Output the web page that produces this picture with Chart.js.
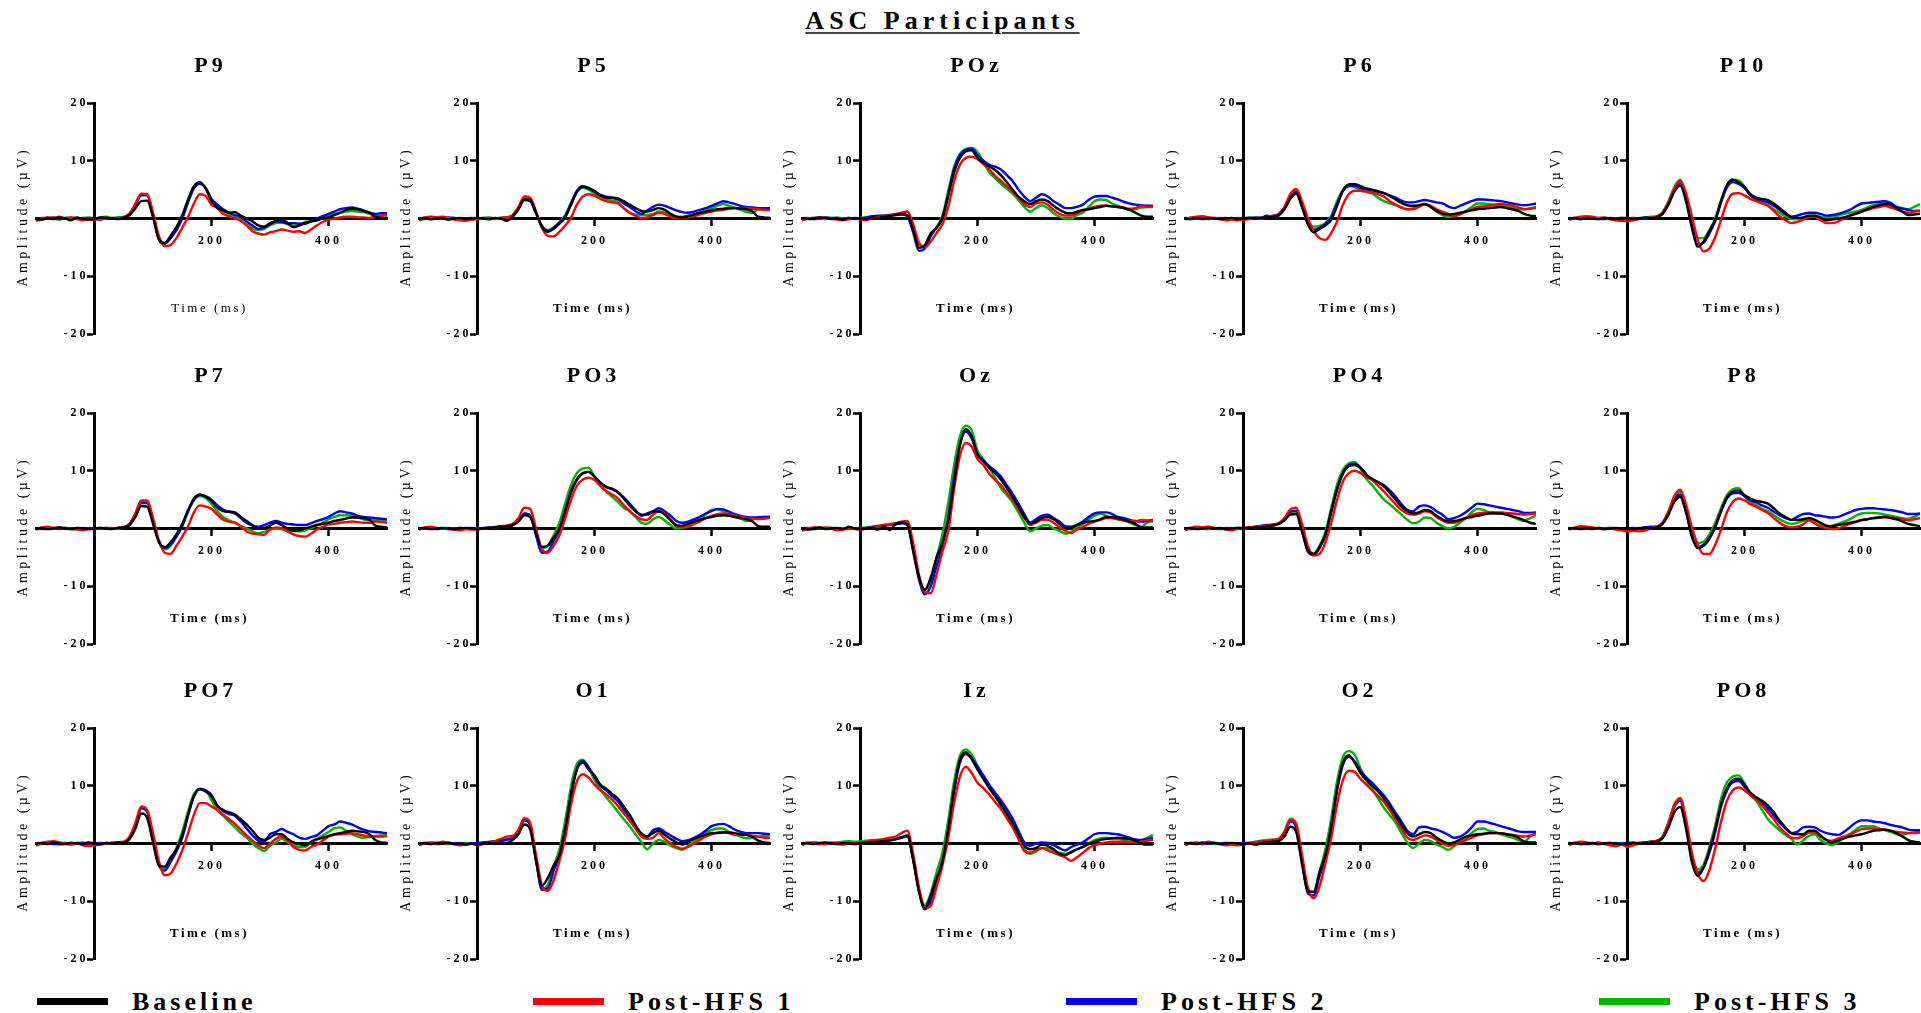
<!DOCTYPE html>
<html>
<head>
<meta charset="utf-8">
<script src="https://cdn.jsdelivr.net/npm/chart.js@4/dist/chart.umd.min.js"></script>
<style>
  html, body { margin: 0; padding: 0; background: #fff; }
  body { width: 1921px; height: 1013px; overflow: hidden; position: relative;
         font-family: "Liberation Serif", "Times New Roman", serif; color: #000; }
  canvas.panel { position: absolute; }
  #mainTitle { position: absolute; top: 6px; left: 0; width: 1885px; text-align: center;
               font-weight: bold; font-size: 26px; line-height: 30px; letter-spacing: 5px;
               text-decoration: underline; text-decoration-thickness: 2px; text-underline-offset: 3px;
               text-decoration-color: #444; }
  .lgSwatch { position: absolute; top: 998px; width: 71px; height: 7px; }
  .lgText { position: absolute; top: 987px; font-weight: bold; font-size: 26px; line-height: 30px;
            letter-spacing: 4px; white-space: nowrap; }
</style>
</head>
<body>
<div id="mainTitle">ASC Participants</div>
<script>
// ---- time base (ms) and tick values ----
const timesMs = [-100,-90,-80,-70,-60,-50,-40,-30,-20,-10,0,10,20,30,40,50,60,70,80,90,100,110,120,130,140,150,160,170,180,190,200,210,220,230,240,250,260,270,280,290,300,310,320,330,340,350,360,370,380,390,400,410,420,430,440,450,460,470,480,490,500];
const xTickValues = [200, 400];
const yTickValues = [-20, -10, 10, 20];
const channelNames = ['P9','P5','POz','P6','P10','P7','PO3','Oz','PO4','P8','PO7','O1','Iz','O2','PO8'];
const seriesNames = ['Baseline','Post-HFS 1','Post-HFS 2','Post-HFS 3'];

// ---- grand-average amplitudes (µV), one value per time point ----
const p9Base = [0.0,-0.2,0.1,-0.1,0.2,0.0,-0.3,0.1,0.0,-0.2, -0.1,0.2,0.1,0.0,-0.1,0.1,0.6,1.8,3.0,3.1, 0.2,-3.6,-4.3,-3.0,-1.5,0.5,3.2,5.6,6.3,5.2, 3.0,1.8,1.4,1.0,1.1,0.5,0.0,-0.5,-1.2,-1.4, -0.8,-0.4,-0.2,-0.8,-1.5,-1.2,-0.8,-0.5,-0.3,0.0, 0.2,0.6,1.0,1.5,1.7,1.6,1.3,1.0,0.3,0.1, 0.0];
const p9Hfs1 = [-0.3,0.0,0.2,0.1,0.3,0.0,0.2,-0.1,-0.3,-0.1, -0.2,-0.1,0.0,0.1,0.0,0.2,0.9,2.6,4.3,4.2, 1.0,-3.0,-4.8,-4.6,-3.4,-1.6,0.3,2.6,4.2,3.9, 2.4,1.8,0.8,0.4,0.0,-0.4,-1.2,-2.2,-2.6,-2.8, -2.4,-2.2,-1.9,-2.1,-2.3,-2.2,-2.5,-1.9,-1.2,-0.6, -0.2,0.0,0.2,0.3,0.3,0.2,0.2,0.1,0.3,0.5, 0.6];
const p9Hfs2 = [-0.2,0.1,0.0,0.2,-0.1,0.1,0.0,0.2,-0.1,0.0, 0.1,-0.2,0.1,0.0,0.1,0.1,0.7,2.3,4.0,4.0, 0.6,-3.6,-4.4,-3.4,-2.0,0.0,2.8,5.2,6.0,5.3, 3.4,2.4,1.6,1.0,0.6,0.3,-0.5,-1.2,-1.8,-1.6, -1.0,-0.5,-0.6,-0.8,-0.8,-0.9,-0.9,-0.5,0.0,0.4, 0.8,1.2,1.6,1.8,1.9,1.7,1.4,1.0,0.8,0.9, 0.9];
const p9Hfs3 = [-0.4,-0.2,0.1,0.0,-0.2,0.1,0.2,0.0,0.1,0.2, 0.0,0.2,0.3,0.1,0.2,0.3,0.8,2.4,4.2,4.1, 0.8,-3.3,-4.2,-3.3,-1.6,0.6,3.3,5.6,6.2,5.3, 3.2,2.2,1.3,0.8,0.4,-0.3,-1.0,-1.7,-2.0,-1.8, -1.2,-0.8,-0.7,-1.0,-1.2,-1.1,-0.6,-0.5,-0.3,0.1, 0.5,0.8,1.0,1.2,1.3,1.2,1.1,0.8,0.6,0.5, 0.5];

const p5Base = [0.0,0.1,-0.1,0.0,0.1,-0.2,0.0,0.1,-0.1,0.0, 0.1,0.0,-0.1,0.1,0.0,-0.4,0.3,1.6,3.3,3.2, 1.0,-1.4,-2.3,-1.8,-0.9,0.2,2.4,4.6,5.5,5.2, 4.8,4.0,3.6,3.6,3.5,3.0,2.4,1.8,1.3,1.2, 1.5,1.8,1.5,0.8,0.3,0.2,0.4,0.7,1.0,1.2, 1.4,1.6,1.7,1.8,1.8,1.7,1.6,1.2,0.3,0.2, 0.1];
const p5Hfs1 = [-0.2,0.2,0.3,0.2,0.3,0.1,-0.2,-0.3,-0.4,-0.2, -0.1,0.0,0.1,-0.1,0.1,0.2,0.6,2.0,3.8,3.6, 1.2,-1.6,-3.0,-3.1,-2.3,-1.2,0.2,2.4,3.8,4.2, 3.9,3.4,3.0,2.8,2.6,1.8,1.0,0.5,0.1,0.2, 0.6,1.0,0.8,0.3,0.1,0.1,0.2,0.4,0.7,1.0, 1.2,1.4,1.5,1.7,1.8,1.8,1.8,1.7,1.6,1.5, 1.4];
const p5Hfs2 = [0.1,0.0,-0.1,0.1,0.0,0.2,0.1,-0.1,0.0,0.1, 0.0,0.1,-0.1,0.0,0.1,0.2,0.5,1.7,3.2,3.0, 0.9,-1.3,-2.2,-1.6,-0.7,0.4,2.6,4.8,5.6,5.3, 4.6,4.1,3.8,3.6,3.3,2.6,2.0,1.3,0.8,1.4, 2.0,2.4,2.2,1.8,1.4,1.1,1.0,1.2,1.5,1.8, 2.2,2.6,3.0,2.8,2.5,2.2,2.0,1.9,1.8,1.8, 1.8];
const p5Hfs3 = [-0.3,-0.1,0.0,0.1,-0.1,0.0,0.1,0.0,-0.1,0.0, 0.0,0.1,0.2,0.0,0.1,0.1,0.4,1.8,3.5,3.4, 1.1,-1.2,-2.0,-1.6,-0.6,0.6,2.8,4.6,5.3,5.0, 4.3,3.8,3.4,3.1,2.8,1.8,1.0,0.7,0.6,0.6, 0.8,1.2,1.0,0.6,0.3,0.3,0.5,0.7,1.0,1.4, 1.8,2.2,2.5,2.2,1.9,1.5,1.1,1.0,1.6,1.6, 1.6];

const pozBase = [0.1,-0.1,0.0,0.2,0.1,-0.1,0.0,-0.2,0.1,0.0, 0.0,-0.1,0.2,0.1,0.3,0.4,0.6,0.8,0.6,-2.0, -5.1,-4.6,-2.6,-1.6,0.0,4.0,8.0,10.5,11.6,11.8, 10.5,9.6,9.0,8.4,7.5,6.3,5.0,3.8,3.0,2.5, 3.0,3.3,3.0,2.2,1.5,1.0,0.9,1.2,1.5,1.6, 1.8,2.0,2.2,2.1,2.0,1.8,1.5,1.0,0.5,0.3, 0.3];
const pozHfs1 = [-0.3,0.0,0.1,0.2,0.1,0.0,-0.2,-0.3,-0.1,0.0, -0.2,-0.3,0.1,0.2,0.4,0.5,0.8,1.0,1.2,-1.0, -4.2,-5.0,-4.0,-2.5,-1.0,2.0,6.4,9.3,10.5,10.7, 10.3,9.4,8.5,7.4,6.5,5.6,4.7,3.6,2.5,2.0, 2.6,2.8,2.4,1.5,0.8,0.5,0.5,0.9,1.3,1.7, 2.0,2.2,2.2,2.1,2.0,1.9,1.7,1.8,2.2,2.0, 2.1];
const pozHfs2 = [0.0,0.1,-0.1,0.0,0.2,0.1,0.0,-0.1,0.0,0.1, 0.0,0.2,0.4,0.5,0.5,0.6,0.6,0.7,0.4,-2.4, -5.6,-5.2,-3.0,-1.6,0.1,4.2,8.6,11.0,11.9,12.1, 11.0,10.0,9.3,9.0,8.5,7.5,6.5,5.0,3.8,3.0, 3.6,4.2,3.8,3.0,2.4,1.8,1.8,2.0,2.4,3.2, 3.8,3.9,3.9,3.6,3.3,2.9,2.6,2.4,2.3,2.2, 2.2];
const pozHfs3 = [-0.2,0.0,0.1,0.0,-0.1,0.1,0.2,0.0,0.1,-0.1, 0.1,0.2,0.3,0.4,0.5,0.6,0.7,0.8,0.5,-1.8, -4.6,-4.8,-3.0,-1.5,0.5,4.8,9.0,11.2,12.0,12.2, 11.5,9.8,8.0,7.0,6.0,5.2,4.3,3.2,2.0,1.2, 1.8,2.3,1.8,0.9,0.3,0.0,0.0,0.6,1.0,2.0, 3.0,3.3,3.2,2.6,2.2,1.8,1.5,1.6,1.9,2.0, 2.0];

const p6Base = [0.0,-0.1,0.1,0.0,0.1,0.0,-0.1,0.0,0.1,-0.1, 0.0,0.1,0.0,0.1,0.2,0.3,0.6,1.6,3.4,4.3, 2.0,-1.0,-2.4,-1.8,-1.2,-0.2,2.2,4.8,5.9,6.0, 5.6,5.2,5.0,4.7,4.4,3.9,3.3,2.7,2.3,2.2, 2.3,2.5,2.0,1.3,0.8,0.7,0.8,1.0,1.2,1.4, 1.6,1.7,1.8,1.9,2.0,1.8,1.6,1.3,0.8,0.5, 0.4];
const p6Hfs1 = [-0.2,0.2,0.3,0.4,0.2,0.1,-0.1,-0.3,-0.2,-0.3, -0.2,-0.1,0.1,0.0,0.2,0.5,0.8,2.0,4.2,5.1, 3.0,0.0,-2.2,-3.4,-3.7,-2.5,-0.5,2.4,4.2,4.8, 4.8,4.6,4.5,4.2,3.8,3.0,2.4,1.9,1.6,1.6, 2.0,2.5,2.2,1.6,1.2,0.8,0.4,0.7,1.2,1.6, 2.0,2.1,2.2,2.4,2.5,2.4,2.2,1.9,1.6,1.7, 1.8];
const p6Hfs2 = [0.1,0.0,0.1,-0.1,0.0,0.1,0.0,0.1,-0.1,0.0, 0.1,0.0,0.2,0.1,0.5,0.3,0.5,1.7,3.7,4.6, 2.2,-0.8,-2.0,-1.6,-0.9,0.2,2.6,4.8,5.6,5.7, 5.3,5.0,4.8,4.6,4.4,4.0,3.6,3.1,2.8,2.8, 3.0,3.2,3.0,2.8,2.6,2.1,1.8,2.2,2.6,3.0, 3.3,3.3,3.2,3.1,3.0,2.8,2.6,2.4,2.3,2.4, 2.6];
const p6Hfs3 = [0.0,0.1,0.0,0.1,-0.1,0.0,0.1,0.0,0.0,0.1, 0.0,0.2,0.1,0.2,0.3,0.3,0.6,1.9,4.0,4.9, 2.6,-0.3,-1.4,-1.3,-0.8,0.5,3.0,5.0,5.7,5.4, 5.0,4.6,4.3,3.6,3.0,2.6,2.3,1.9,1.6,1.8, 2.2,2.4,2.0,1.2,0.6,0.3,0.4,0.8,1.3,2.0, 2.6,2.6,2.5,2.4,2.3,2.1,1.8,1.6,1.6,1.8, 2.0];

const p10Base = [0.0,0.1,-0.1,0.1,0.0,-0.1,0.1,0.0,-0.1,0.0, 0.1,-0.1,0.0,0.1,0.0,0.2,0.8,2.4,4.6,5.7, 3.0,-1.6,-4.9,-4.0,-2.2,-0.2,3.0,5.8,6.7,6.2, 5.5,4.2,3.6,3.4,3.2,2.6,1.8,1.0,0.2,0.1, 0.2,0.5,0.5,0.1,-0.3,-0.2,0.0,0.2,0.5,0.8, 1.2,1.6,2.0,2.3,2.5,2.3,1.8,1.2,0.6,0.7, 0.8];
const p10Hfs1 = [-0.2,0.1,0.3,0.4,0.3,0.1,0.2,-0.1,-0.3,-0.4, -0.4,-0.3,-0.1,0.0,0.1,0.3,1.0,2.8,5.2,6.5, 4.4,0.4,-3.6,-5.7,-5.2,-3.2,-0.2,2.8,4.3,4.4, 4.0,3.4,3.0,2.6,2.2,1.3,0.4,-0.3,-0.8,-0.6, -0.2,0.3,0.3,-0.3,-0.8,-0.8,-0.5,0.0,0.5,0.9, 1.2,1.5,1.8,2.0,2.2,1.9,1.6,1.2,1.0,1.2, 1.4];
const p10Hfs2 = [-0.1,0.0,0.1,0.0,0.2,0.0,-0.1,0.1,0.0,0.1, 0.0,0.1,0.0,0.2,0.1,0.3,0.9,2.6,5.0,6.1, 3.4,-1.0,-4.5,-4.2,-2.6,-0.4,2.8,5.4,6.3,6.0, 5.3,4.0,3.4,3.1,2.8,2.2,1.5,0.8,0.3,0.5, 0.8,1.0,1.0,0.8,0.5,0.6,0.8,1.1,1.5,2.1, 2.6,2.7,2.8,2.9,3.0,2.7,2.0,1.7,1.5,1.3, 1.3];
const p10Hfs3 = [0.1,0.0,-0.1,0.1,0.0,0.1,0.0,-0.1,0.0,0.1, 0.1,0.0,0.1,0.2,0.3,0.4,1.1,3.0,5.4,6.7, 4.0,-0.6,-3.4,-3.4,-2.0,0.0,3.2,5.8,6.7,6.6, 5.5,4.0,3.3,2.8,2.3,1.6,1.0,0.4,-0.1,-0.1, 0.0,0.4,0.5,0.3,0.2,0.3,0.5,0.8,1.0,1.2, 1.5,1.9,2.3,2.5,2.6,2.4,2.0,1.8,1.6,2.0, 2.5];

const p7Base = [0.0,0.1,-0.1,0.0,0.2,0.0,-0.1,0.1,0.0,-0.1, 0.0,0.1,0.0,-0.1,0.1,0.2,0.6,2.0,3.9,3.8, 0.8,-2.3,-3.2,-2.4,-1.0,0.8,3.2,5.2,5.9,5.5, 4.8,3.6,3.0,2.9,2.8,2.0,1.3,0.6,0.0,0.1, 0.5,1.0,0.6,0.0,-0.4,-0.3,0.0,0.3,0.6,0.8, 1.0,1.3,1.5,1.7,1.9,1.9,1.8,1.5,0.5,0.3, 0.2];
const p7Hfs1 = [-0.1,0.2,0.3,0.1,0.2,0.0,-0.1,-0.2,-0.3,-0.1, -0.1,0.0,0.1,0.0,0.1,0.2,0.8,2.6,4.8,4.8, 1.8,-2.0,-4.2,-4.4,-3.0,-1.4,0.4,2.8,4.0,3.8, 3.4,2.4,1.5,1.2,1.0,0.4,-0.5,-0.9,-1.0,-1.1, -0.2,0.2,0.0,-0.5,-1.0,-1.3,-1.4,-0.9,-0.2,0.3, 0.7,0.8,1.0,1.1,1.2,1.1,1.0,1.0,1.2,1.1, 1.0];
const p7Hfs2 = [0.1,-0.1,0.0,0.1,0.0,0.1,0.0,0.0,0.1,0.0, 0.1,0.0,0.1,0.0,0.1,0.2,0.7,2.3,4.4,4.4, 1.2,-2.2,-3.4,-2.8,-1.4,0.4,3.0,5.0,5.8,5.6, 5.0,4.0,3.3,2.9,2.6,1.8,1.0,0.5,0.3,0.6, 1.0,1.3,1.0,0.8,0.7,0.6,0.6,0.9,1.3,1.6, 2.0,2.6,3.0,2.8,2.6,2.2,2.0,1.9,1.8,1.7, 1.6];
const p7Hfs3 = [-0.2,0.0,0.1,0.0,-0.1,0.1,0.0,0.1,-0.1,0.0, 0.0,0.1,0.0,0.1,0.0,0.2,0.8,2.6,4.8,4.8, 1.5,-2.3,-3.6,-3.0,-1.4,0.6,3.0,4.9,5.6,5.3, 4.3,3.0,2.0,1.4,1.0,0.4,0.0,-0.5,-0.8,-0.6, -0.2,0.0,-0.1,-0.3,-0.5,-0.5,-0.3,0.1,0.5,1.0, 1.6,2.0,2.3,2.3,2.2,1.9,1.6,1.4,1.5,1.4, 1.4];

const po3Base = [0.0,0.1,-0.1,0.0,0.1,0.0,-0.1,0.0,0.1,0.0, -0.1,0.0,0.1,0.2,0.3,0.4,0.6,1.2,2.3,2.0, -0.8,-3.2,-3.0,-1.6,0.0,3.2,6.5,8.6,9.6,9.8, 9.0,7.9,7.2,6.9,6.3,5.2,4.0,3.0,2.4,2.4, 2.9,3.0,2.4,1.4,0.6,0.5,0.8,1.2,1.5,1.8, 2.0,2.2,2.3,2.2,2.0,1.8,1.6,1.2,0.4,0.3, 0.3];
const po3Hfs1 = [-0.2,0.2,0.3,0.1,0.0,-0.1,-0.2,-0.3,-0.1,-0.2, -0.1,0.0,0.1,0.2,0.4,0.5,0.8,1.8,3.6,3.4, 0.0,-3.6,-4.2,-3.0,-1.2,1.8,5.0,7.4,8.5,8.8, 8.4,7.4,6.5,5.9,5.2,4.0,3.0,2.2,1.6,1.5, 2.4,3.0,2.6,1.6,0.4,0.2,0.3,0.8,1.2,1.8, 2.2,2.5,2.6,2.5,2.2,2.0,1.8,1.7,1.6,1.7, 1.8];
const po3Hfs2 = [0.1,0.0,0.1,-0.1,0.0,0.1,0.0,0.1,0.0,0.1, 0.0,0.1,0.2,0.2,0.3,0.4,0.6,1.3,2.6,2.2, -1.2,-4.2,-4.0,-2.2,-0.3,2.8,6.2,8.4,9.5,9.8, 9.0,8.0,7.2,6.8,6.3,5.4,4.3,3.2,2.2,2.6, 3.0,3.5,3.0,2.2,1.3,1.0,1.2,1.6,2.0,2.6, 3.0,3.4,3.3,2.9,2.5,2.2,2.0,1.9,1.9,2.0, 2.0];
const po3Hfs3 = [-0.1,0.0,0.1,0.0,0.1,-0.1,0.0,0.1,0.0,0.0, 0.1,0.0,0.1,0.3,0.3,0.4,0.6,1.3,2.6,2.3, -0.9,-3.4,-3.0,-1.2,1.0,4.4,7.6,9.6,10.4,10.5, 9.0,7.4,6.4,5.5,4.6,3.6,3.0,2.0,1.0,0.8, 1.6,2.0,1.4,0.6,0.0,0.1,0.4,0.9,1.5,2.4, 3.2,3.3,3.0,2.4,2.0,1.7,1.3,1.5,2.0,2.0, 2.0];

const ozBase = [0.1,-0.2,0.0,0.2,-0.1,0.0,0.1,-0.1,0.3,0.0, -0.1,0.0,0.1,-0.2,0.4,-0.3,0.8,1.0,0.8,-4.0, -8.5,-10.6,-8.5,-5.0,-2.5,1.5,8.0,14.5,17.2,16.0, 12.8,11.6,10.5,9.6,8.5,7.0,5.5,3.8,2.0,0.8, 1.2,1.8,2.0,1.6,0.8,0.1,0.2,0.6,1.0,1.2, 1.3,1.6,2.0,2.0,1.8,1.5,1.2,0.8,0.2,0.2, 0.2];
const ozHfs1 = [-0.4,0.0,0.2,0.1,0.2,0.0,-0.3,-0.2,0.0,-0.1, -0.2,0.0,0.1,0.3,0.6,0.7,0.9,1.2,1.3,-2.5, -8.0,-11.0,-11.2,-8.0,-4.0,-0.5,6.8,12.6,14.8,14.2, 12.0,11.0,9.5,8.4,7.5,6.2,5.0,3.4,1.8,0.6, 1.0,1.5,1.5,1.0,0.2,-0.4,-0.8,-0.2,0.3,0.8, 1.2,1.5,1.8,1.8,1.6,1.4,1.3,1.2,1.5,1.4, 1.3];
const ozHfs2 = [0.0,0.1,-0.1,0.0,0.1,0.1,0.0,-0.1,0.1,0.0, 0.0,0.1,0.2,0.4,0.5,0.6,0.7,0.9,0.6,-3.6, -8.8,-11.4,-10.0,-6.5,-3.0,2.0,9.0,14.5,16.8,15.6, 12.8,11.8,10.8,10.0,9.0,7.5,6.0,4.3,2.5,1.0, 1.6,2.2,2.4,1.8,1.2,0.4,0.3,0.6,1.2,2.0, 2.6,2.8,2.8,2.5,2.0,1.8,1.5,1.3,1.2,1.3, 1.5];
const ozHfs3 = [-0.2,0.0,0.1,0.2,0.0,0.1,0.0,0.1,-0.1,0.0, 0.1,0.2,0.3,0.5,0.6,0.8,0.9,1.0,0.7,-3.4, -8.6,-10.6,-9.0,-5.0,-1.0,4.5,11.0,16.0,17.8,17.0, 13.5,12.0,10.5,8.8,7.0,5.8,4.5,2.8,1.0,-0.5, 0.0,0.5,0.6,0.0,-0.4,-0.9,-0.6,0.2,0.8,1.5, 2.2,2.6,2.2,1.8,1.6,1.4,1.0,0.6,0.3,1.0, 1.3];

const po4Base = [0.0,0.1,-0.1,0.0,0.1,0.0,0.1,-0.1,0.0,0.1, 0.0,0.1,0.2,0.2,0.4,0.5,0.8,1.4,2.4,2.5, -0.6,-3.8,-4.4,-3.2,-1.0,3.0,6.8,9.5,10.8,11.0, 10.5,9.3,8.6,8.0,7.3,6.2,5.0,3.8,3.0,2.6, 2.8,3.2,3.0,2.2,1.6,1.2,1.3,1.5,1.8,2.0, 2.2,2.4,2.6,2.6,2.6,2.4,2.1,1.8,1.4,1.0, 0.8];
const po4Hfs1 = [-0.3,0.1,0.3,0.2,0.3,0.1,0.0,-0.2,-0.3,0.0, 0.1,0.2,0.3,0.4,0.5,0.6,0.9,1.8,3.3,3.6, 0.8,-3.0,-4.7,-4.4,-2.4,1.0,5.0,8.2,9.6,10.0, 9.6,8.9,8.4,7.4,6.4,5.3,4.2,3.2,2.6,2.4, 2.6,3.0,2.8,2.0,1.4,1.0,1.0,1.3,1.8,2.3, 2.6,2.7,2.8,2.8,2.8,2.7,2.6,2.5,2.4,2.5, 2.6];
const po4Hfs2 = [0.0,-0.1,0.1,0.0,0.1,0.0,-0.1,0.1,0.0,0.1, 0.1,0.2,0.3,0.5,0.6,0.7,0.9,1.6,2.9,3.1, -0.2,-4.0,-4.6,-3.4,-1.2,2.8,6.8,9.6,11.0,11.2, 10.6,9.4,8.5,8.0,7.5,6.6,5.5,4.2,3.2,3.0, 3.8,4.0,3.7,3.0,2.4,1.6,1.8,2.2,2.8,3.6, 4.3,4.2,4.0,3.8,3.6,3.4,3.2,3.0,2.7,2.7, 2.8];
const po4Hfs3 = [-0.1,0.0,0.1,0.0,-0.1,0.1,0.0,0.0,0.1,-0.1, 0.0,0.1,0.2,0.3,0.4,0.5,0.8,1.5,2.7,2.8, -0.4,-3.7,-4.3,-3.0,-0.6,3.6,7.6,10.2,11.3,11.5, 10.3,8.6,7.5,6.2,5.0,4.2,3.3,2.4,1.5,0.9, 1.2,1.9,1.8,1.0,0.4,0.0,0.3,1.0,1.8,2.8, 3.4,3.2,2.8,2.7,2.6,2.4,2.0,1.6,1.3,1.8, 2.2];

const p8Base = [0.0,0.1,-0.1,0.1,0.0,0.1,-0.1,0.0,0.1,0.0, 0.1,-0.1,0.0,0.1,0.0,0.2,0.8,2.4,4.6,5.5, 2.8,-1.4,-3.4,-3.0,-1.8,0.2,3.0,5.4,6.4,6.6, 5.8,5.2,4.8,4.6,4.3,3.5,2.6,2.0,1.5,1.5, 1.6,1.8,1.5,1.0,0.5,0.4,0.6,0.8,1.0,1.2, 1.5,1.6,1.8,1.9,2.0,1.8,1.6,1.2,0.8,0.6, 0.4];
const p8Hfs1 = [-0.2,0.1,0.4,0.3,0.2,0.0,-0.1,0.1,-0.2,-0.3, -0.5,-0.4,-0.5,-0.3,0.0,0.3,1.0,3.0,5.6,6.7, 4.2,0.2,-2.8,-4.4,-4.4,-2.8,-0.2,2.8,4.6,5.2, 4.9,4.2,3.8,3.2,2.7,1.8,1.0,0.4,0.2,0.3, 0.7,1.4,0.9,0.3,0.1,-0.1,0.0,0.4,0.8,1.1, 1.4,1.6,1.8,1.9,2.0,1.9,1.8,1.6,1.4,1.6, 1.8];
const p8Hfs2 = [0.1,0.0,0.1,0.0,-0.1,0.1,0.0,0.1,0.0,-0.1, 0.0,0.1,0.0,0.2,0.3,0.3,0.9,2.6,5.0,5.9, 3.0,-1.2,-3.2,-2.8,-1.6,0.4,3.0,5.2,6.1,6.2, 5.6,4.9,4.5,4.0,3.6,2.9,2.3,1.8,1.5,2.0, 2.5,2.6,2.3,2.2,2.0,1.9,2.0,2.4,2.8,3.2, 3.4,3.5,3.5,3.4,3.3,3.2,3.0,2.8,2.5,2.5, 2.6];
const p8Hfs3 = [0.0,0.1,0.0,-0.1,0.1,0.0,0.1,0.0,-0.1,0.0, 0.1,0.0,0.1,0.2,0.2,0.3,1.0,2.8,5.3,6.4, 3.6,-0.6,-2.5,-2.3,-1.0,1.0,3.6,5.8,6.8,7.0, 5.6,4.6,4.0,3.4,3.0,2.3,1.6,1.1,0.8,1.0, 1.3,1.5,1.0,0.6,0.4,0.5,0.8,1.2,1.6,2.2, 2.6,2.7,2.7,2.6,2.4,2.2,2.0,1.8,1.7,2.0, 2.6];

const po7Base = [0.0,0.1,-0.1,0.2,0.0,-0.1,0.1,0.0,-0.1,0.2, 0.0,-0.1,0.1,0.0,0.2,0.1,0.8,2.6,5.2,4.4, 0.2,-3.8,-4.0,-2.4,-1.0,1.4,5.0,8.2,9.4,9.0, 8.2,6.5,5.8,5.4,5.0,4.2,3.3,2.2,1.0,0.6, 1.0,1.6,1.6,0.8,0.2,-0.1,-0.3,0.3,0.7,1.0, 1.3,1.6,1.8,2.0,2.2,2.1,2.0,1.6,0.6,0.2, 0.1];
const po7Hfs1 = [-0.4,0.1,0.3,0.4,0.2,0.0,-0.2,0.1,-0.3,-0.4, -0.3,-0.2,0.0,0.1,0.2,0.3,1.2,3.6,6.4,5.8, 1.8,-3.0,-5.5,-5.2,-3.5,-1.2,1.8,5.0,7.0,7.0, 6.4,5.8,5.0,4.2,3.4,2.4,1.4,0.5,-0.3,-0.8, 0.0,0.8,1.2,0.4,-0.6,-1.1,-1.2,-0.6,-0.2,0.5, 1.2,1.5,1.6,1.7,1.8,1.6,1.4,1.2,1.2,1.2, 1.3];
const po7Hfs2 = [0.1,0.0,0.1,-0.1,0.0,0.1,0.0,0.1,0.0,-0.1, 0.1,0.0,0.1,0.0,0.2,0.2,1.0,3.3,6.2,5.6, 1.0,-3.8,-4.7,-3.2,-1.4,1.0,4.8,8.2,9.5,9.2, 8.4,6.6,5.6,5.1,4.8,3.8,2.6,1.4,0.5,0.3, 1.6,2.0,2.5,2.0,1.6,1.0,0.8,1.1,1.4,2.2, 3.0,3.3,3.8,3.6,3.3,2.8,2.4,2.1,2.0,1.9, 1.8];
const po7Hfs3 = [-0.2,-0.1,0.0,0.1,-0.2,0.0,0.1,0.0,0.2,0.0, 0.0,0.1,0.0,0.2,0.1,0.2,1.0,3.2,6.1,5.5, 0.8,-3.7,-4.4,-2.8,-0.8,2.0,5.6,8.6,9.4,9.2, 7.5,5.8,4.8,3.8,2.8,1.8,1.0,0.0,-0.8,-1.3, -0.4,0.2,0.8,0.2,-0.2,-0.6,-0.6,0.2,0.8,1.4, 2.0,2.6,2.8,2.2,1.6,1.2,1.0,1.1,1.3,1.4, 1.5];

const o1Base = [0.0,0.1,-0.1,0.1,0.0,0.1,-0.1,0.0,-0.2,0.0, -0.2,0.0,0.1,0.0,0.2,0.1,0.6,1.6,3.3,2.4, -3.0,-7.3,-6.0,-3.8,-2.0,2.5,8.5,12.8,14.0,12.8, 11.8,10.2,9.5,8.6,7.8,6.4,5.0,3.2,1.8,1.2, 1.8,2.2,1.5,0.8,0.2,-0.2,0.3,0.8,1.2,1.5, 1.8,1.8,1.9,1.9,1.8,1.6,1.5,1.1,0.5,0.2, 0.1];
const o1Hfs1 = [-0.3,0.1,0.2,0.0,0.3,0.1,-0.1,-0.3,-0.2,0.0, -0.3,-0.1,0.2,0.4,0.8,1.2,1.3,2.4,4.4,3.6, -2.0,-7.2,-8.2,-6.4,-3.0,1.0,6.8,10.8,12.0,11.4, 10.2,9.2,8.5,7.6,6.5,5.2,4.0,2.6,1.2,0.8, 1.0,1.8,0.8,0.0,-0.6,-0.9,-0.6,0.0,0.6,1.2, 1.6,1.9,2.0,1.8,1.5,1.5,1.5,1.3,1.2,1.0, 0.9];
const o1Hfs2 = [0.1,0.0,0.1,-0.1,0.0,0.2,0.0,0.1,-0.1,0.0, 0.1,0.2,0.3,0.4,0.6,0.7,0.9,2.0,4.0,3.2, -2.8,-8.0,-7.8,-4.8,-2.0,2.6,8.6,13.0,14.3,13.2, 11.5,10.0,9.2,8.2,7.3,5.8,4.3,2.8,1.6,1.2, 2.3,2.6,2.0,1.4,0.8,0.4,0.6,1.0,1.5,2.2, 3.0,3.3,3.4,3.0,2.4,2.0,1.8,1.8,1.8,1.7, 1.6];
const o1Hfs3 = [-0.2,0.0,0.1,0.2,0.0,-0.1,0.1,0.0,0.1,0.0, 0.0,0.1,0.2,0.4,0.5,0.7,0.9,2.0,4.0,3.2, -2.6,-7.8,-7.2,-4.0,-1.0,4.0,10.0,13.8,14.5,13.0, 11.0,9.4,8.0,6.8,5.5,4.2,3.0,1.6,0.3,-1.0, 0.0,0.6,0.3,-0.4,-0.8,-1.1,-0.4,0.4,1.0,1.8, 2.3,2.6,2.6,2.0,1.6,1.2,0.9,1.0,1.2,1.3, 1.4];

const izBase = [0.0,0.1,-0.1,0.1,0.2,0.0,-0.1,0.1,0.0,-0.1, 0.0,0.1,0.2,0.3,0.4,0.5,0.7,1.0,1.4,-2.8, -8.4,-11.2,-9.0,-6.0,-3.2,2.5,9.5,14.5,15.8,14.6, 12.8,11.2,9.6,8.2,6.8,5.2,3.5,1.6,-0.4,-1.0, -0.8,-0.2,-0.4,-1.0,-1.8,-2.0,-1.5,-1.0,-0.6,-0.1, 0.3,0.6,0.8,0.9,1.0,0.9,0.8,0.5,0.0,-0.2, -0.2];
const izHfs1 = [-0.3,0.1,0.2,0.0,-0.1,0.2,0.0,-0.2,0.1,0.0, 0.1,0.3,0.5,0.6,0.8,1.0,1.2,1.8,2.2,-1.8, -7.6,-11.2,-10.8,-7.5,-3.8,1.0,7.0,11.6,13.3,12.2, 10.5,9.6,8.5,7.2,6.0,4.4,2.8,0.8,-1.3,-1.6, -1.2,-0.8,-1.2,-1.6,-2.0,-2.4,-3.0,-2.4,-1.6,-0.8, -0.3,0.0,0.2,0.3,0.3,0.3,0.2,0.2,0.3,0.5, 0.6];
const izHfs2 = [0.0,0.1,0.0,-0.1,0.1,0.0,0.1,0.0,0.1,0.0, 0.1,0.2,0.3,0.4,0.5,0.6,0.8,1.1,1.3,-2.6, -8.2,-11.4,-10.0,-6.4,-3.0,2.2,9.0,14.0,15.5,14.8, 13.3,11.8,10.2,8.8,7.5,6.0,4.3,2.2,0.2,-0.4, 0.0,0.2,0.1,-0.3,-0.8,-1.2,-0.6,-0.2,0.2,0.9, 1.6,1.8,1.8,1.7,1.6,1.3,1.0,0.7,0.6,0.8, 1.0];
const izHfs3 = [-0.1,0.0,0.2,0.1,0.0,0.1,0.2,0.3,0.4,0.3, 0.4,0.5,0.6,0.6,0.7,0.6,0.8,1.0,1.2,-2.8, -8.2,-10.7,-8.6,-5.0,-1.6,4.0,10.8,15.2,16.3,15.4, 13.5,11.6,9.8,8.2,6.5,5.0,3.3,1.2,-1.0,-1.8, -1.4,-0.8,-0.8,-1.2,-1.6,-1.8,-1.6,-1.0,-0.6,0.0, 0.6,0.9,1.0,0.9,0.8,0.6,0.4,0.4,0.6,1.0, 1.5];

const o2Base = [0.0,0.1,-0.1,0.2,0.0,0.1,-0.1,0.0,0.1,0.0, -0.1,0.0,-0.2,0.0,0.2,0.3,0.4,1.2,2.9,2.0, -3.6,-8.2,-8.4,-5.0,-2.0,3.0,9.5,14.0,15.3,14.0, 12.2,11.0,10.0,9.0,7.8,6.4,4.8,3.2,1.8,1.2, 1.6,2.0,1.8,1.0,0.4,0.0,0.2,0.7,1.2,1.4, 1.6,1.7,1.8,1.8,1.8,1.6,1.4,1.0,0.3,0.2, 0.2];
const o2Hfs1 = [-0.3,0.1,0.2,0.0,0.3,0.1,-0.1,-0.3,-0.2,-0.3, -0.2,0.0,0.2,0.3,0.4,0.6,0.8,2.0,4.1,3.4, -2.0,-7.6,-9.5,-7.4,-3.4,1.0,6.8,11.0,12.6,12.4, 11.2,10.2,9.2,8.2,7.2,5.8,4.2,2.6,1.0,0.6, 1.0,1.4,1.2,0.6,0.0,-0.4,-0.2,0.2,0.6,1.0, 1.4,1.6,1.8,1.8,1.8,1.6,1.5,1.3,1.2,1.4, 1.6];
const o2Hfs2 = [0.1,0.0,0.1,-0.1,0.0,0.1,0.0,0.1,0.0,0.0, 0.1,0.1,0.2,0.3,0.4,0.5,0.6,1.8,3.8,2.8, -3.0,-8.6,-9.0,-5.6,-2.4,2.8,9.2,13.6,15.0,14.2, 12.6,11.4,10.5,9.4,8.3,6.9,5.3,3.8,2.2,1.6, 2.8,2.9,2.6,2.4,2.0,1.5,1.0,1.2,1.8,2.8, 3.8,3.8,3.6,3.3,3.0,2.7,2.4,2.1,2.0,2.0, 2.0];
const o2Hfs3 = [-0.2,0.0,0.1,0.0,0.2,-0.1,0.0,0.1,0.0,0.1, 0.0,0.1,0.3,0.5,0.6,0.7,0.8,2.1,4.3,3.4, -2.6,-8.2,-8.4,-4.8,-1.0,4.4,10.8,15.0,16.0,15.4, 13.0,11.0,9.4,7.8,6.2,4.9,3.6,1.8,0.2,-0.8, 0.0,0.6,0.4,-0.2,-0.6,-1.1,-0.5,0.3,0.8,1.8, 2.5,2.6,2.2,2.0,1.6,1.3,1.0,0.6,0.3,1.2, 1.8];

const po8Base = [0.0,0.1,-0.1,0.0,0.1,-0.1,0.0,0.1,0.0,-0.1, 0.0,0.1,0.0,0.1,0.2,0.3,0.9,2.8,5.4,6.3, 2.6,-3.2,-5.6,-4.2,-1.2,2.5,6.8,9.6,11.0,11.2, 10.2,8.8,8.0,7.4,6.6,5.4,4.0,2.8,1.8,1.6, 1.6,2.2,2.2,1.4,0.6,0.2,0.5,0.9,1.2,1.4, 1.6,1.9,2.2,2.3,2.4,2.2,1.8,1.2,0.6,0.3, 0.2];
const po8Hfs1 = [-0.3,0.1,0.3,0.2,0.0,0.2,-0.1,-0.3,-0.5,-0.2, -0.6,-0.3,0.0,0.1,0.3,0.5,1.2,3.6,6.6,7.8, 4.2,-1.6,-5.2,-6.5,-4.6,-0.8,3.8,7.4,9.2,9.7, 9.2,8.4,7.6,6.6,5.4,4.2,2.8,1.8,1.0,0.9, 1.3,1.9,1.9,1.2,0.6,0.5,0.9,1.2,1.6,2.0, 2.5,2.6,2.6,2.5,2.4,2.2,2.0,1.9,1.8,1.8, 1.9];
const po8Hfs2 = [0.1,0.0,0.1,-0.1,0.0,0.1,0.0,0.1,-0.1,0.0, 0.1,0.0,0.1,0.2,0.3,0.4,1.1,3.3,6.3,7.4, 3.4,-2.6,-5.0,-4.2,-1.6,2.0,6.4,9.2,10.6,10.8, 9.8,8.6,7.8,7.0,6.0,4.8,3.6,2.6,1.8,2.0, 2.8,2.9,2.8,2.2,1.8,1.6,1.5,2.0,2.8,3.6, 4.0,4.0,3.8,3.7,3.5,3.2,3.0,2.8,2.4,2.3, 2.3];
const po8Hfs3 = [-0.1,0.0,0.1,0.0,-0.1,0.1,0.0,0.0,0.1,0.0, 0.1,0.2,0.1,0.2,0.3,0.4,1.2,3.6,6.8,7.9, 4.0,-2.0,-4.5,-3.6,-0.6,3.2,7.8,10.6,11.6,11.8, 10.4,8.4,7.4,5.8,4.2,3.2,2.3,1.5,0.8,-0.2, 0.5,1.3,1.6,0.6,0.0,-0.3,0.3,1.0,1.6,2.4, 3.0,3.0,3.0,2.6,2.3,2.0,1.6,1.5,1.8,1.9, 2.0];

// channel -> [Baseline, Post-HFS 1, Post-HFS 2, Post-HFS 3]
const channelSeries = {
  P9: [p9Base, p9Hfs1, p9Hfs2, p9Hfs3],
  P5: [p5Base, p5Hfs1, p5Hfs2, p5Hfs3],
  POz: [pozBase, pozHfs1, pozHfs2, pozHfs3],
  P6: [p6Base, p6Hfs1, p6Hfs2, p6Hfs3],
  P10: [p10Base, p10Hfs1, p10Hfs2, p10Hfs3],
  P7: [p7Base, p7Hfs1, p7Hfs2, p7Hfs3],
  PO3: [po3Base, po3Hfs1, po3Hfs2, po3Hfs3],
  Oz: [ozBase, ozHfs1, ozHfs2, ozHfs3],
  PO4: [po4Base, po4Hfs1, po4Hfs2, po4Hfs3],
  P8: [p8Base, p8Hfs1, p8Hfs2, p8Hfs3],
  PO7: [po7Base, po7Hfs1, po7Hfs2, po7Hfs3],
  O1: [o1Base, o1Hfs1, o1Hfs2, o1Hfs3],
  Iz: [izBase, izHfs1, izHfs2, izHfs3],
  O2: [o2Base, o2Hfs1, o2Hfs2, o2Hfs3],
  PO8: [po8Base, po8Hfs1, po8Hfs2, po8Hfs3]
};

// ---- styling & layout ----
const FONT = '"Liberation Serif", "Times New Roman", serif';
const seriesColors = ['#000000', '#ff0000', '#0000f0', '#00b400'];
const colAxisX = 94, colStep = 383.25;   // page x of the 0 ms axis in the first column, column pitch
const rowPlotTop = [103, 413, 728];      // page y of the +20 µV line in each row
const plotW = 351, plotH = 231;
const padL = 40, padR = 40, padT = 60, padB = 20;
const preStimPx = 58.5;                  // width of the -100..0 ms span
const yLabelGap = 6;                     // extra room between amplitude labels and the axis line
const tickSpacing = '3px';

// channel name, axis captions, and spacing of the amplitude labels
const panelText = {
  id: 'panelText',
  beforeUpdate(chart) { chart.ctx.letterSpacing = tickSpacing; },
  beforeDraw(chart) {
    chart.ctx.letterSpacing = tickSpacing;
    const ys = chart.scales.y;
    if (ys && typeof ys.getLabelItems === 'function') {
      const items = ys.getLabelItems();
      if (items && !items._gapApplied) {
        items.forEach(it => { if (it.options && it.options.translation) it.options.translation[0] -= yLabelGap; });
        items._gapApplied = true;
      }
    }
  },
  afterDraw(chart, args, opts) {
    const { ctx, chartArea: a } = chart;
    const x0 = chart.scales.x.getPixelForValue(0);
    ctx.save();
    ctx.fillStyle = '#000';
    ctx.textAlign = 'center';
    ctx.textBaseline = 'middle';
    ctx.font = `bold 22px ${FONT}`;
    ctx.letterSpacing = '4px';
    ctx.fillText(opts.title, x0 + 116, a.top - 37);
    ctx.font = `${opts.timeBold ? 'bold ' : ''}13px ${FONT}`;
    ctx.letterSpacing = '2.5px';
    ctx.fillText('Time (ms)', x0 + 115, a.top + 206);
    ctx.translate(x0 - 71, (a.top + a.bottom) / 2);
    ctx.rotate(-Math.PI / 2);
    ctx.font = `14px ${FONT}`;
    ctx.letterSpacing = '3.5px';
    ctx.fillText('Amplitude (\u00b5V)', 1.75, 0);
    ctx.restore();
  }
};

function axisCommon(extra) {
  return Object.assign({
    type: 'linear',
    grid: { drawOnChartArea: false, drawTicks: true, tickLength: 6, tickWidth: 2.5, color: '#000', tickColor: '#000' },
    border: { display: true, color: '#000', width: 3 },
  }, extra);
}

channelNames.forEach((name, k) => {
  const col = k % 5, row = Math.floor(k / 5);
  const axisX = colAxisX + colStep * col;
  const canvas = document.createElement('canvas');
  canvas.className = 'panel';
  const w = padL + plotW + padR, h = padT + plotH + padB;
  canvas.width = w; canvas.height = h;
  canvas.style.width = w + 'px'; canvas.style.height = h + 'px';
  canvas.style.left = Math.round(axisX - preStimPx - padL) + 'px';
  canvas.style.top = (rowPlotTop[row] - padT) + 'px';
  document.body.appendChild(canvas);

  const datasets = channelSeries[name].map((vals, s) => ({
    label: seriesNames[s],
    data: timesMs.map((t, i) => ({ x: t, y: vals[i] })),
    borderColor: seriesColors[s],
    borderWidth: 2.4,
    pointRadius: 0,
    cubicInterpolationMode: 'monotone',
    fill: false
  }));

  new Chart(canvas, {
    type: 'line',
    data: { datasets },
    plugins: [panelText],
    options: {
      responsive: false,
      animation: false,
      devicePixelRatio: 1,
      layout: { padding: { left: padL, right: padR, top: padT, bottom: padB } },
      plugins: {
        legend: { display: false },
        title: { display: false },
        tooltip: { enabled: false },
        panelText: { title: name, timeBold: k !== 0 }
      },
      scales: {
        x: axisCommon({
          min: -100, max: 500,
          position: { y: 0 },
          afterBuildTicks: s => { s.ticks = xTickValues.map(v => ({ value: v })); },
          ticks: { color: '#000', font: { family: FONT, size: 12, weight: 'bold' }, padding: 9,
                   maxRotation: 0, autoSkip: false, callback: v => String(v) }
        }),
        y: axisCommon({
          min: -20, max: 20,
          position: { x: 0 },
          afterBuildTicks: s => { s.ticks = yTickValues.map(v => ({ value: v })); },
          ticks: { color: '#000', font: { family: FONT, size: 12, weight: 'bold' }, padding: 3,
                   autoSkip: false, callback: v => String(v) }
        })
      }
    }
  });
});

// legend row
const legendLefts = [37, 533, 1066, 1599];
seriesNames.forEach((n, s) => {
  const sw = document.createElement('div');
  sw.className = 'lgSwatch';
  sw.style.left = legendLefts[s] + 'px';
  sw.style.background = seriesColors[s];
  document.body.appendChild(sw);
  const tx = document.createElement('div');
  tx.className = 'lgText';
  tx.style.left = (legendLefts[s] + 95) + 'px';
  tx.textContent = n;
  document.body.appendChild(tx);
});
</script>
</body>
</html>
